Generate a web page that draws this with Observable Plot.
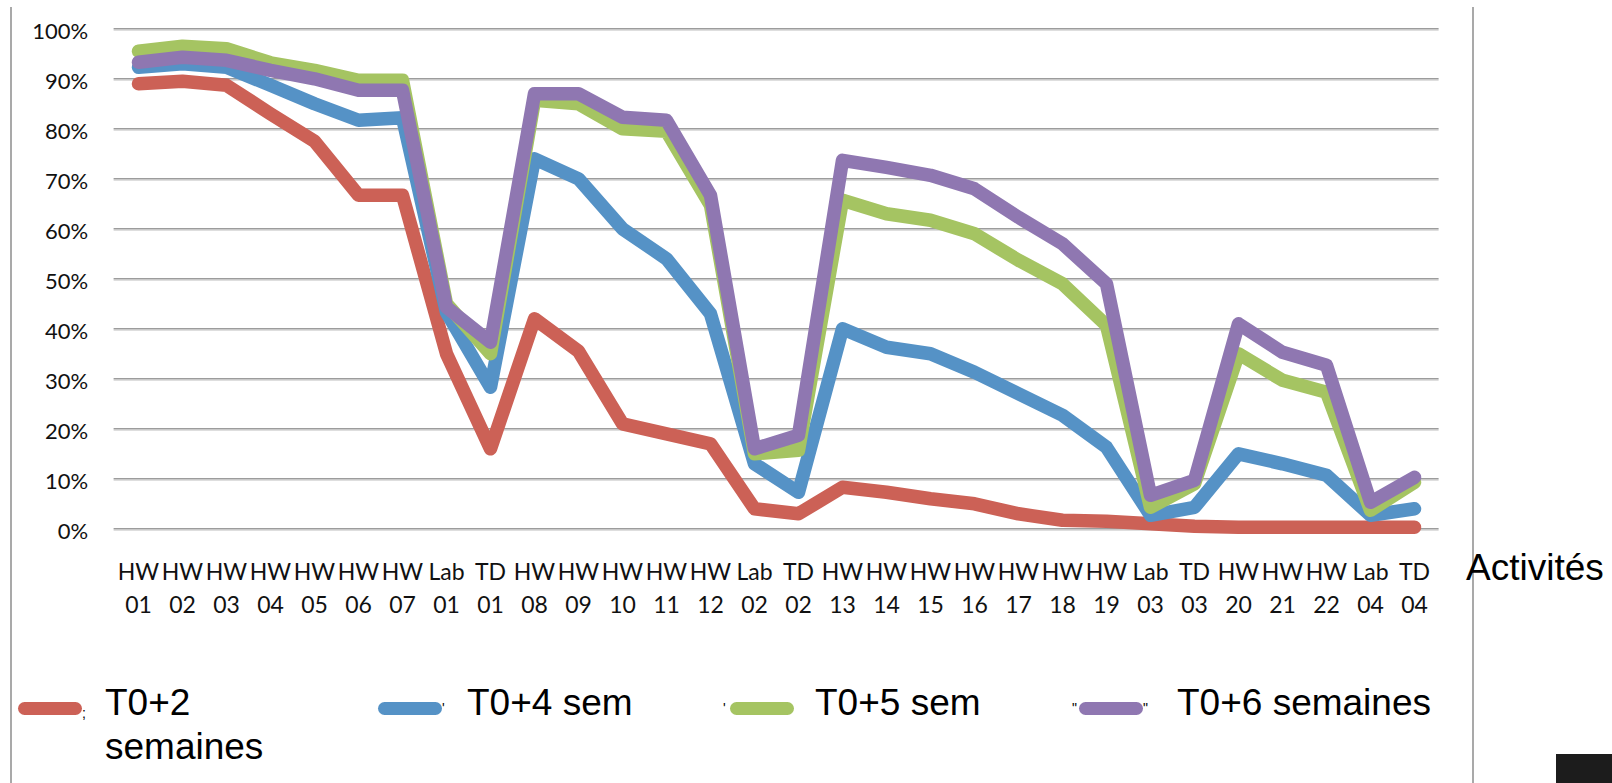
<!DOCTYPE html>
<html>
<head>
<meta charset="utf-8">
<script src="https://cdn.jsdelivr.net/npm/d3@7"></script>
<script src="https://cdn.jsdelivr.net/npm/@observablehq/plot@0.6"></script>
<style>
  body { margin: 0; background: #fff; }
  #wrap { position: relative; width: 1612px; height: 783px; overflow: hidden; background: #fff; }
  #chart { position: absolute; left: 0; top: 0; }
  .vline { position: absolute; top: 7px; bottom: 0; width: 2px; background: #a9a9a9; }
  .lab { position: absolute; font-family: "Liberation Sans", Arial, sans-serif; font-size: 37px; line-height: 44px; color: #000; white-space: nowrap; }
  .sw { position: absolute; height: 13px; border-radius: 7px; }
  .tiny { position: absolute; font-family: "Liberation Sans", Arial, sans-serif; font-size: 14px; line-height: 14px; color: #000; }
  #blk { position: absolute; left: 1556px; top: 754px; width: 56px; height: 29px; background: #1c1c1c; }
</style>
</head>
<body>
<div id="wrap">
  <div id="chart"></div>
  <div class="vline" style="left:10px"></div>
  <div class="vline" style="left:1472px"></div>
  <div class="lab" id="xtitle" style="left:1466px; top:546px;"></div>
  <div id="legend"></div>
  <div id="blk"></div>
</div>
<script>
// Categories (x axis)
const activities = [
  "HW 01","HW 02","HW 03","HW 04","HW 05","HW 06","HW 07","Lab 01","TD 01",
  "HW 08","HW 09","HW 10","HW 11","HW 12","Lab 02","TD 02",
  "HW 13","HW 14","HW 15","HW 16","HW 17","HW 18","HW 19","Lab 03","TD 03",
  "HW 20","HW 21","HW 22","Lab 04","TD 04"
];

// Series values (%)
const t2 = [89, 89.5, 88.7, 83, 77.5, 66.7, 66.7, 35, 16, 42, 35.5, 21, 19, 17, 4, 3, 8.3, 7.3, 6, 5, 3, 1.7, 1.5, 1, 0.5, 0.3, 0.3, 0.3, 0.3, 0.3];
const t4 = [92.3, 93, 92.3, 88.7, 85, 81.7, 82.2, 43.3, 28.3, 74, 70, 60, 54, 43, 13, 7.3, 40, 36.3, 35, 31.3, 27, 22.7, 16.3, 2.7, 4.3, 15, 13, 10.7, 2.7, 4];
const t5 = [95.5, 96.5, 96, 93.2, 91.7, 89.7, 89.7, 45, 35, 85.7, 85, 80, 79.5, 64.7, 15, 15.7, 65.7, 63, 61.7, 59, 53.7, 49, 40.7, 4.3, 9, 35, 29.7, 27.3, 3.7, 9.3];
const t6 = [93.3, 94.3, 93.7, 91.7, 90, 87.7, 87.7, 44.3, 37.3, 87, 87, 82.3, 81.7, 66.7, 16, 18.7, 73.7, 72.3, 70.7, 68, 62.3, 57, 49, 6.7, 9.7, 41, 35.3, 32.7, 5.3, 10.3];

// Series names and colours
const seriesNames = ["T0+2\nsemaines", "T0+4 sem", "T0+5 sem", "T0+6 semaines"];
const seriesColors = ["#cc6156", "#5592c6", "#a5c462", "#8f77b1"];
const seriesValues = [t2, t4, t5, t6];

// Y tick values
const yTicks = [0, 0.1, 0.2, 0.3, 0.4, 0.5, 0.6, 0.7, 0.8, 0.9, 1];
const xTitle = "Activités";

const lineMarks = seriesValues.map((vals, k) =>
  Plot.line(vals, {
    x: (d, i) => activities[i],
    y: d => d / 100,
    stroke: seriesColors[k],
    strokeWidth: 13.5,
    strokeLinejoin: "round",
    strokeLinecap: "round"
  })
);

const chart = Plot.plot({
  width: 1612,
  height: 640,
  marginTop: 28.3,
  marginBottom: 111.7,
  marginLeft: 113.6,
  marginRight: 173.4,
  style: { fontFamily: "Lato, sans-serif", fontSize: "22px", color: "#111", background: "transparent" },
  x: { type: "point", domain: activities, padding: 0.5, label: null },
  y: { domain: [0, 1], label: null },
  marks: [
    Plot.ruleY(yTicks, { stroke: "#dedede", strokeWidth: 1.2, dy: 1.5 }),
    Plot.ruleY(yTicks, { stroke: "#9c9c9c", strokeWidth: 1.6 }),
    Plot.axisY(yTicks, { tickSize: 0, tickPadding: 26, tickFormat: d => Math.round(d * 100) + "%", fontSize: 22, dy: 3, label: null }),
    Plot.axisX({ tickSize: 0, tickPadding: 28, tickFormat: d => d.replace(" ", "\n"), fontSize: 23, lineHeight: 1.42, label: null }),
    ...lineMarks
  ]
});
document.getElementById("chart").appendChild(chart);
document.getElementById("xtitle").textContent = xTitle;

// Legend (HTML, below the plot area)
const legendSwatchLeft = [18, 378, 730, 1079];
const legendTextLeft = [105, 467, 815, 1177];
const legendBefore = ["", "", "'", "\""];
const legendAfter = [";", "'", "", "\""];
const legend = document.getElementById("legend");
seriesNames.forEach((name, k) => {
  const sw = document.createElement("div");
  sw.className = "sw";
  sw.style.left = legendSwatchLeft[k] + "px";
  sw.style.top = "702px";
  sw.style.width = "64px";
  sw.style.background = seriesColors[k];
  legend.appendChild(sw);
  if (legendBefore[k]) {
    const b = document.createElement("div");
    b.className = "tiny";
    b.textContent = legendBefore[k];
    b.style.left = (legendSwatchLeft[k] - 7) + "px";
    b.style.top = "701px";
    legend.appendChild(b);
  }
  if (legendAfter[k]) {
    const a = document.createElement("div");
    a.className = "tiny";
    a.textContent = legendAfter[k];
    a.style.left = (legendSwatchLeft[k] + 64) + "px";
    a.style.top = k === 0 ? "706px" : "701px";
    legend.appendChild(a);
  }
  const t = document.createElement("div");
  t.className = "lab";
  t.style.left = legendTextLeft[k] + "px";
  t.style.top = "681px";
  t.style.whiteSpace = "pre";
  t.textContent = name;
  legend.appendChild(t);
});
</script>
</body>
</html>
